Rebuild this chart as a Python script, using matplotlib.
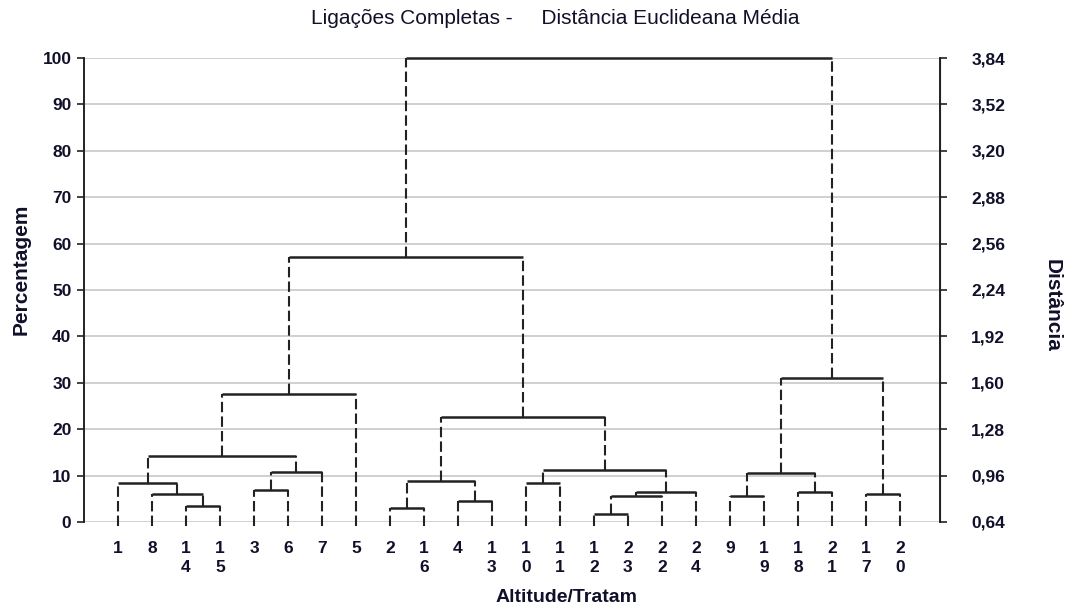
import matplotlib
matplotlib.use("Agg")
import matplotlib.pyplot as plt
from matplotlib.ticker import FixedLocator

plt.rcParams['font.family'] = ['Liberation Sans', 'DejaVu Sans']

# leaf order as drawn (left to right)
leaf_labels = ['1', '8', '14', '15', '3', '6', '7', '5', '2', '16', '4', '13',
               '10', '11', '12', '23', '22', '24', '9', '19', '18', '21', '17', '20']

# merges: cluster 'kN' is created by merge N (complete linkage, % of max distance)
merge_a = ['12', '2', '14', '4', '9', 'k0', '8', '17', 'k5', '18', '3', '1',
           '10', 'k1', 'k4', 'k10', 'k12', 'k11', 'k13', 'k17', 'k14', 'k19', 'k21']
merge_b = ['23', '16', '15', '13', '19', '22', 'k2', '20', '24', '21', '6', 'k6',
           '11', 'k3', 'k9', '7', 'k8', 'k15', 'k16', '5', 'k7', 'k18', 'k20']
merge_h = [1.7, 3.1, 3.5, 4.6, 5.5, 5.7, 6.0, 6.1, 6.5, 6.5, 6.9, 8.3,
           8.5, 8.9, 10.5, 10.8, 11.3, 14.3, 22.7, 27.6, 31.0, 57.1, 100.0]

pct_ticks = [0, 10, 20, 30, 40, 50, 60, 70, 80, 90, 100]
dist_ticks = [0.64, 0.96, 1.28, 1.60, 1.92, 2.24, 2.56, 2.88, 3.20, 3.52, 3.84]

line_col = '#222222'
text_col = '#10102a'

fig = plt.figure(figsize=(10.69, 6.10), dpi=100)
ax = fig.add_axes([84 / 1069, 1 - 522 / 610, (940 - 84) / 1069, (522 - 58) / 610])

# positions / heights of each node
xpos = {lab: i + 1 for i, lab in enumerate(leaf_labels)}
hgt = {lab: 0.0 for lab in leaf_labels}

dash = (0, (5, 2))
for i, (a, b, h) in enumerate(zip(merge_a, merge_b, merge_h)):
    for c in (a, b):
        y0 = hgt[c] if hgt[c] > 0 else -0.8
        ax.plot([xpos[c], xpos[c]], [y0, h], color=line_col, lw=1.5,
                linestyle=dash, clip_on=False, zorder=3)
    ax.plot([xpos[a], xpos[b]], [h, h], color=line_col, lw=1.8,
            solid_capstyle='butt', clip_on=False, zorder=4)
    key = 'k%d' % i
    xpos[key] = (xpos[a] + xpos[b]) / 2
    hgt[key] = h

ax.set_xlim(0, 25.18)
ax.set_ylim(0, 100)
ax.set_yticks(pct_ticks)
ax.set_yticklabels([str(t) for t in pct_ticks])
ax.yaxis.grid(True, color='#c8c8c8', lw=1.2)
ax.set_axisbelow(True)

ax.set_xticks([xpos[l] for l in leaf_labels])
ax.set_xticklabels(['\n'.join(l) for l in leaf_labels], va='top',
                   linespacing=1.3)
ax.tick_params(axis='x', length=0, pad=14, labelsize=12.5, labelcolor=text_col)
for t in ax.get_xticklabels():
    t.set_fontweight('bold')

ax.tick_params(axis='y', direction='out', length=5, width=1.2, color=line_col,
               labelsize=12.5, labelcolor=text_col, pad=4)
for t in ax.get_yticklabels():
    t.set_fontweight('bold')

for s in ['top', 'bottom']:
    ax.spines[s].set_visible(False)
ax.spines['left'].set_color(line_col)
ax.spines['left'].set_linewidth(1.4)

ax2 = ax.twinx()
ax2.set_ylim(dist_ticks[0], dist_ticks[-1])
ax2.yaxis.set_major_locator(FixedLocator(dist_ticks))
ax2.set_yticklabels([('%.2f' % t).replace('.', ',') for t in dist_ticks])
ax2.tick_params(axis='y', direction='out', length=5, width=1.2, color=line_col,
                labelsize=12.5, labelcolor=text_col, pad=17.5)
for t in ax2.get_yticklabels():
    t.set_fontweight('bold')
for s in ['top', 'bottom', 'left']:
    ax2.spines[s].set_visible(False)
ax2.spines['right'].set_color(line_col)
ax2.spines['right'].set_linewidth(1.4)

fig.text(555 / 1069, 1 - 18 / 610,
         'Ligações Completas -     Distância Euclideana Média',
         ha='center', va='center', fontsize=15, color=text_col)
fig.text(21 / 1069, 1 - 269 / 610, 'Percentagem', rotation=90,
         ha='center', va='center', fontsize=15, fontweight='bold', color=text_col)
fig.text(1052 / 1069, 1 - 305 / 610, 'Distância', rotation=270,
         ha='center', va='center', fontsize=15, fontweight='bold', color=text_col)
fig.text(567 / 1069, 1 - 597 / 610, 'Altitude/Tratam',
         ha='center', va='center', fontsize=14, fontweight='bold', color=text_col)

fig.savefig('out.png', dpi=100, facecolor='white')
